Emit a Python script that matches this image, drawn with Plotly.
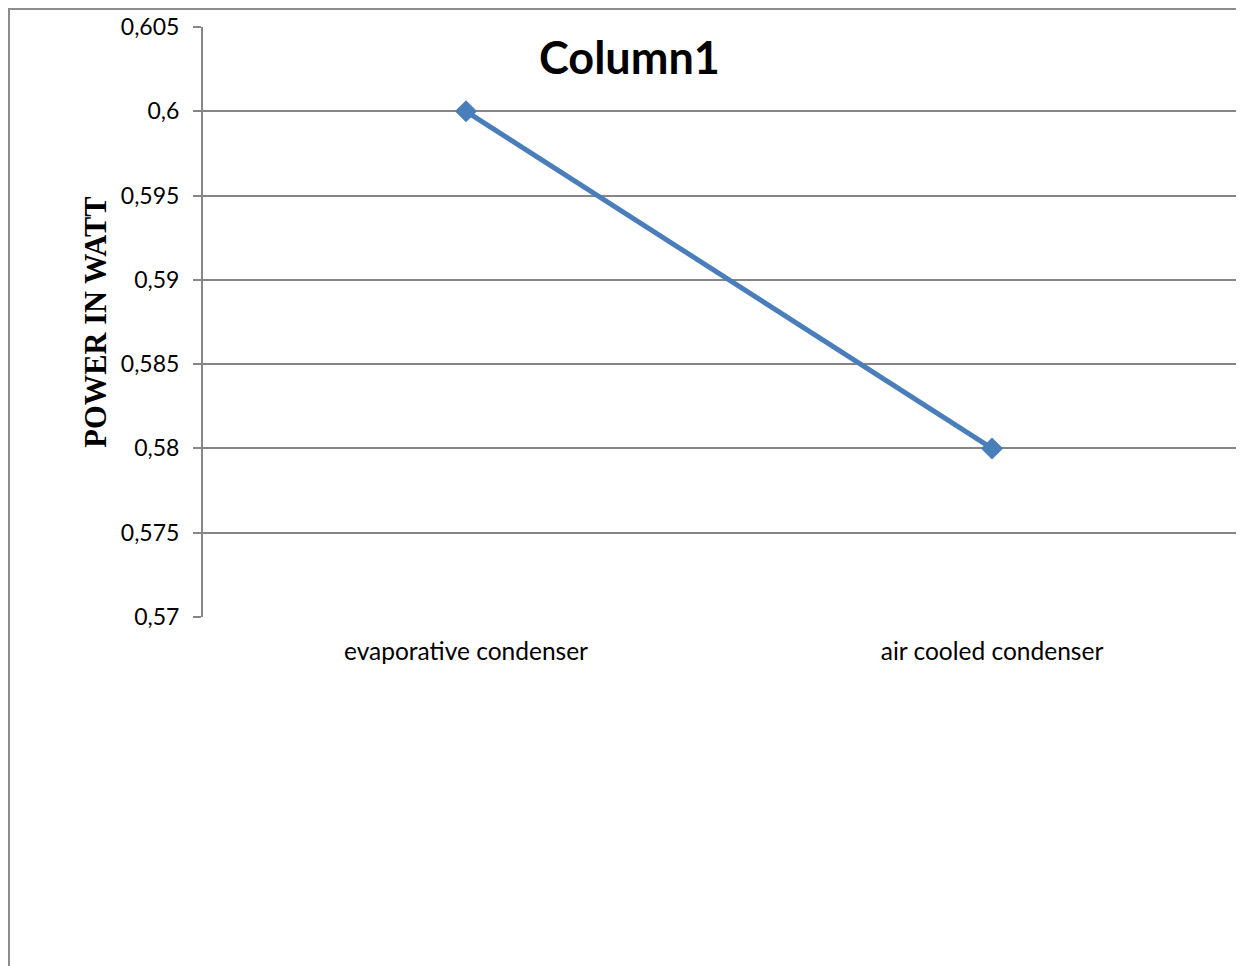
import plotly.graph_objects as go

categories = ["evaporative condenser", "air cooled condenser"]
values = [0.60, 0.58]
tick_vals = [0.57, 0.575, 0.58, 0.585, 0.59, 0.595, 0.6, 0.605]
tick_text = ["0,57", "0,575", "0,58", "0,585", "0,59", "0,595", "0,6", "0,605"]

GRID = "#868686"

fig = go.Figure()
fig.add_trace(go.Scatter(
    x=[0, 1], y=values, mode="lines+markers",
    line=dict(color="#4A7EBB", width=5),
    marker=dict(symbol="diamond", size=17, color="#4A7EBB"),
    showlegend=False, hoverinfo="skip",
))

fig.update_layout(
    width=1236, height=958,
    margin=dict(l=195, r=0, t=19, b=349),
    paper_bgcolor="white", plot_bgcolor="white",
    showlegend=False,
    font=dict(family="Lato", color="black"),
    xaxis=dict(
        range=[-0.5, 1.479], tickvals=[0, 1], ticktext=categories,
        showgrid=False, zeroline=False, showline=False, ticks="",
        tickfont=dict(size=24.5, family="Lato"), ticklabelstandoff=17,
    ),
    yaxis=dict(
        range=[0.57, 0.605], tickvals=tick_vals, ticktext=tick_text,
        showgrid=True, gridcolor=GRID, gridwidth=2,
        zeroline=False, showline=True, linecolor=GRID, linewidth=2,
        ticks="outside", ticklen=8, tickcolor=GRID, tickwidth=2,
        tickfont=dict(size=23, family="Lato"), ticklabelstandoff=9,
        title=dict(text="<b>POWER IN WATT</b>", standoff=5,
                   font=dict(size=30.5, family="Liberation Serif")),
    ),
    annotations=[dict(
        text="<b>Column1</b>", x=0.41, y=0.949, xref="paper", yref="paper",
        xanchor="center", yanchor="middle", showarrow=False,
        font=dict(size=45, family="Lato"),
    )],
    shapes=[dict(
        type="rect", xref="paper", yref="paper",
        x0=-0.18636, x1=1.2, y0=-1.0, y1=1.0305,
        line=dict(color="#8c8c8c", width=2), layer="below",
    )],
)

fig.write_html("out.html")
